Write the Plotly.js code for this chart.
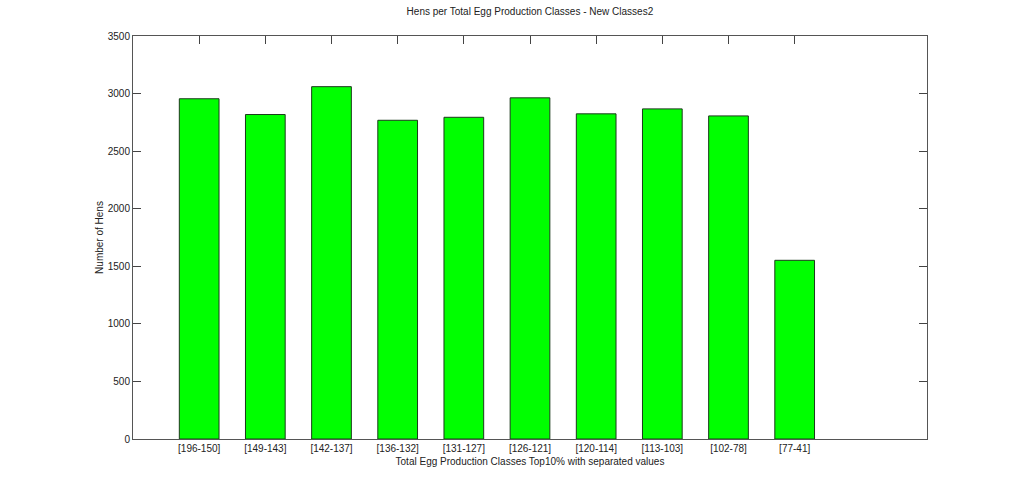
<!DOCTYPE html>
<html><head><meta charset="utf-8">
<script src="https://cdn.plot.ly/plotly-3.0.1.min.js"></script>
<style>html,body{margin:0;padding:0;background:#fff}</style>
</head><body>
<div id="chart" style="width:1024px;height:493px"></div>
<script>
const categories = ["[196-150]","[149-143]","[142-137]","[136-132]","[131-127]","[126-121]","[120-114]","[113-103]","[102-78]","[77-41]"];
const positions = [1,2,3,4,5,6,7,8,9,10];
const hens = [2955, 2818, 3060, 2768, 2794, 2963, 2824, 2867, 2806, 1552];
const yTicks = [0,500,1000,1500,2000,2500,3000,3500];

const font = {family: "Liberation Sans, Arial, sans-serif", size: 10, color: "#222"};
Plotly.newPlot("chart", [{
  type: "bar", x: positions, y: hens, width: 0.6,
  marker: {color: "#00ff00", line: {color: "#1b3a1b", width: 1}},
  hoverinfo: "none"
}], {
  width: 1024, height: 493,
  margin: {l: 133, r: 97, t: 36, b: 54},
  paper_bgcolor: "#fff", plot_bgcolor: "#fff",
  font: font, showlegend: false,
  title: {text: "Hens per Total Egg Production Classes - New Classes2", font: {family: font.family, size: 10, color: "#222"}, x: 0.5175, xanchor: "center", y: 0.977, yanchor: "middle"},
  xaxis: {
    range: [0, 12], tickvals: positions, ticktext: categories,
    ticks: "inside", ticklen: 8, tickcolor: "#444", mirror: "ticks",
    showline: true, linecolor: "#555", linewidth: 1, showgrid: false, zeroline: false,
    layer: "below traces", tickfont: font,
    title: {text: "Total Egg Production Classes Top10% with separated values", font: font, standoff: 4}
  },
  yaxis: {
    range: [0, 3500], tickvals: yTicks,
    ticks: "inside", ticklen: 8, tickcolor: "#444", mirror: "ticks",
    showline: true, linecolor: "#555", linewidth: 1, showgrid: false, zeroline: false,
    layer: "below traces", tickfont: font,
    title: {text: "Number of Hens", font: font, standoff: 2}
  }
}, {staticPlot: true});
</script>
</body></html>
